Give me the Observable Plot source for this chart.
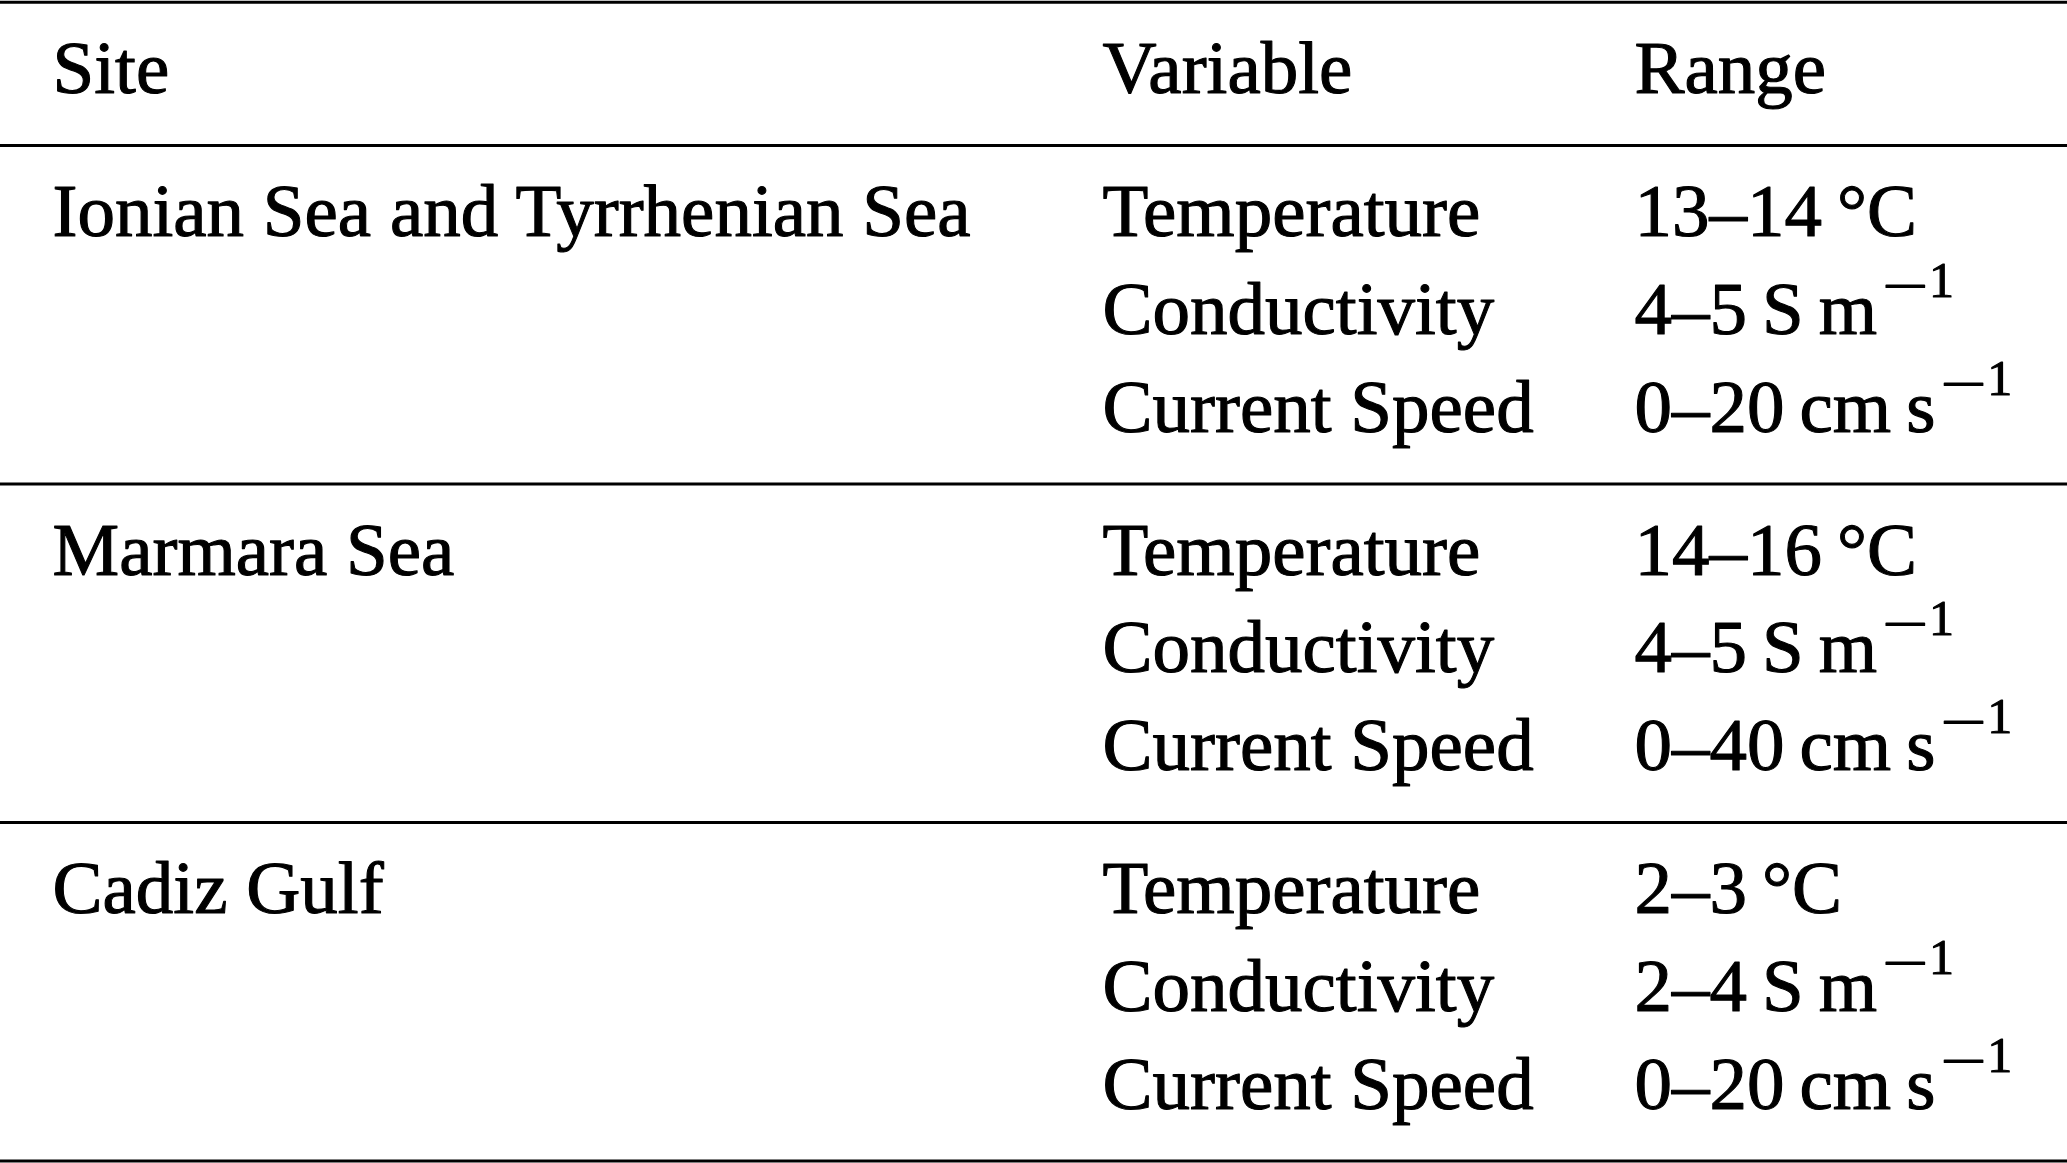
<!DOCTYPE html>
<html>
<head>
<meta charset="utf-8">
<script src="https://cdn.jsdelivr.net/npm/d3@7"></script>
<script src="https://cdn.jsdelivr.net/npm/@observablehq/plot@0.6"></script>
<style>
  html, body { margin: 0; padding: 0; background: #fff; overflow: hidden; }
  #chart svg { display: block; }
</style>
</head>
<body>
<div id="chart"></div>
<script>
// ---- data ----
const columns = ["Site", "Variable", "Range"];
const sites = ["Ionian Sea and Tyrrhenian Sea", "Marmara Sea", "Cadiz Gulf"];
const variables = ["Temperature", "Conductivity", "Current Speed"];
const ionianRanges  = ["13–14\u2009°C", "4–5\u2009S\u2009m^−1", "0–20\u2009cm\u2009s^−1"];
const marmaraRanges = ["14–16\u2009°C", "4–5\u2009S\u2009m^−1", "0–40\u2009cm\u2009s^−1"];
const cadizRanges   = ["2–3\u2009°C",   "2–4\u2009S\u2009m^−1", "0–20\u2009cm\u2009s^−1"];
const siteRanges = [ionianRanges, marmaraRanges, cadizRanges];

// ---- layout (styles) ----
const W = 2067, H = 1163;
const fontSize = 75;
const supSize = 50;
const columnStart = [52 / W, 1102 / W, 1634 / W];   // fraction of width
const ruleToBaseline = 0.93;   // in row-pitch units
const baselineToRule = 0.537;

// build cells and rules in row units
const cells = [];
const rules = [];
let u = 0;
rules.push(u);
let b = u + ruleToBaseline;
columns.forEach((c, j) => cells.push({x: columnStart[j], y: b, text: c}));
u = b + baselineToRule;
rules.push(u);
sites.forEach((site, g) => {
  const first = u + ruleToBaseline;
  variables.forEach((v, i) => {
    const y = first + i;
    if (i === 0) cells.push({x: columnStart[0], y, text: site});
    cells.push({x: columnStart[1], y, text: v});
    cells.push({x: columnStart[2], y, text: siteRanges[g][i]});
  });
  u = first + (variables.length - 1) + baselineToRule;
  rules.push(u);
});

const chart = Plot.plot({
  width: W,
  height: H,
  margin: 0,
  x: {domain: [0, 1], range: [0, W], axis: null},
  y: {domain: [0, u], range: [1.7, 1160.5], axis: null},
  style: {
    fontFamily: "'Liberation Serif', 'Times New Roman', serif",
    fontSize: fontSize + "px",
    background: "#fff",
    color: "#000"
  },
  marks: [
    Plot.ruleY(rules, {y: d => d, stroke: "#000", strokeWidth: 3}),
    Plot.text(cells, {
      x: "x", y: "y", text: "text",
      textAnchor: "start", lineAnchor: "bottom",
      fontSize: fontSize, fill: "#000",
      stroke: "#000", strokeWidth: 1.1
    })
  ]
});

// superscripts (e.g. "m^−1")
const NS = "http://www.w3.org/2000/svg";
chart.querySelectorAll("text").forEach(t => {
  const s = t.textContent;
  const k = s.indexOf("^");
  if (k < 0) return;
  const base = s.slice(0, k);
  const sup = s.slice(k + 1);
  t.textContent = base;
  const sign = document.createElementNS(NS, "tspan");
  sign.setAttribute("font-size", supSize);
  sign.setAttribute("dy", -31);
  sign.setAttribute("dx", 5);
  sign.setAttribute("textLength", 46);
  sign.setAttribute("lengthAdjust", "spacingAndGlyphs");
  sign.textContent = sup.slice(0, 1);
  t.appendChild(sign);
  const num = document.createElementNS(NS, "tspan");
  num.setAttribute("font-size", supSize);
  num.setAttribute("dy", -6);
  num.setAttribute("dx", 1);
  num.textContent = sup.slice(1);
  t.appendChild(num);
});

document.getElementById("chart").appendChild(chart);
</script>
</body>
</html>
